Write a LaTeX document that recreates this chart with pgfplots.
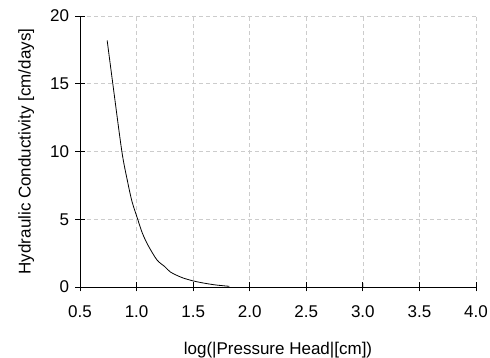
\documentclass[border=0pt]{standalone}
\usepackage{pgfplots}
\pgfplotsset{compat=1.18}
\usepackage{fontspec}
\setmainfont{Liberation Sans}
\begin{document}
\begin{tikzpicture}[x=1pt,y=1pt]
\useasboundingbox (-80,-71) rectangle (410,287);
\begin{axis}[
  at={(0,0)}, anchor=origin,
  scale only axis, width=396pt, height=271pt,
  xmin=0.5, xmax=4.0, ymin=0, ymax=20,
  axis x line*=bottom, axis y line*=left,
  axis line style={black, line width=0.9pt, -},
  xtick={0.5,1.0,...,4.0}, ytick={0,5,10,15,20},
  xticklabels={0.5,1.0,1.5,2.0,2.5,3.0,3.5,4.0},
  tick align=center, major tick length=9pt,
  tick style={black, line width=0.9pt},
  grid=major,
  major grid style={gray!40, dash pattern=on 4pt off 3pt, line width=0.6pt},
  /pgf/number format/assume math mode=true,
  ticklabel style={font=\fontsize{17}{19}\selectfont},
  xticklabel style={yshift=-11pt},
  yticklabel style={xshift=-3pt},
  label style={font=\fontsize{17}{19}\selectfont},
  xlabel={log(|Pressure Head|[cm])},
  ylabel={Hydraulic Conductivity [cm/days]},
  xlabel style={yshift=-17pt},
  ylabel style={yshift=9pt},
  clip=false,
]
\addplot[black, line width=0.8pt, smooth] coordinates {
(0.74,18.2) (0.79,15.0) (0.87,10.0) (0.92,7.8) (0.96,6.3) (1.01,5.0)
(1.05,4.0) (1.10,3.1) (1.18,2.0) (1.25,1.5) (1.30,1.1) (1.40,0.7)
(1.50,0.45) (1.60,0.28) (1.70,0.15) (1.82,0.05)
};
\end{axis}
\end{tikzpicture}
\end{document}
